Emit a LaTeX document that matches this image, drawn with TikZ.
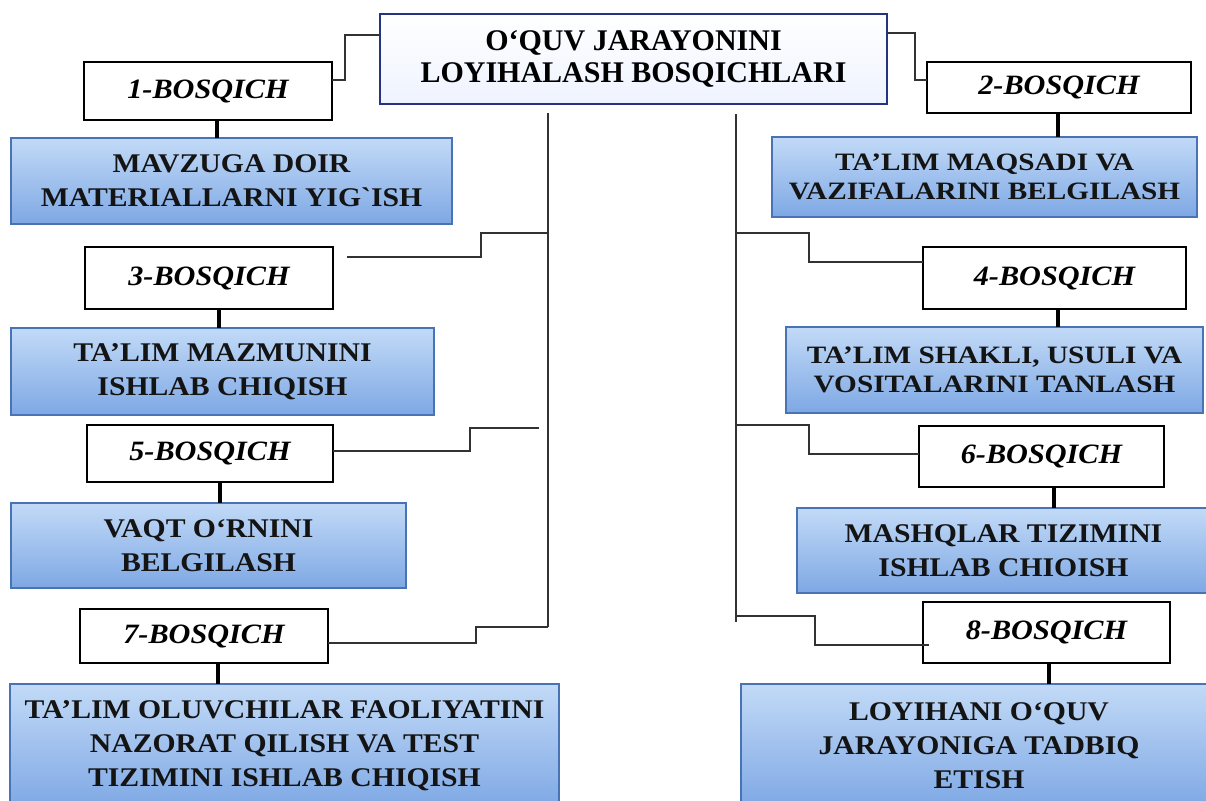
\documentclass[tikz,border=0pt]{standalone}
\usepackage{fontspec}
\setmainfont{Liberation Serif}
\newfontfamily\bluefont{Liberation Serif}[FakeStretch=1.1]
\newfontfamily\bluefontsm{Liberation Serif}[FakeStretch=1.17]
\newfontfamily\stagefont{Liberation Serif}[FakeStretch=1.08]
\usetikzlibrary{calc}
\definecolor{bfillA}{RGB}{194,218,247}
\definecolor{bfillB}{RGB}{126,168,228}
\definecolor{bborder}{RGB}{72,116,182}
\definecolor{tborder}{RGB}{38,52,128}
\definecolor{tfill}{RGB}{238,243,255}
\definecolor{conn}{RGB}{50,50,50}
\begin{document}
\begin{tikzpicture}[x=1pt,y=-1pt,
  every node/.style={inner sep=0pt,outer sep=0pt},
  titlebox/.style={draw=tborder,line width=2pt,top color=white,bottom color=tfill,align=center,font=\fontsize{30}{32}\selectfont\bfseries},
  stagebox/.style={draw=black,line width=2pt,fill=white,font=\stagefont\fontsize{28}{32}\selectfont\bfseries\itshape},
  bluebox/.style={draw=bborder,line width=1.5pt,top color=bfillA,bottom color=bfillB,align=center,text=black!92,font=\bluefont\fontsize{27}{34}\selectfont\bfseries},
  smalltext/.style={font=\bluefontsm\fontsize{25}{29}\selectfont\bfseries},
  link/.style={draw=conn,line width=1.4pt},
  stem/.style={draw=black,line width=4.5pt}]
\fill[white] (0,0) rectangle (1206,800);
\useasboundingbox (0,0) rectangle (1206,800);

% title
\node[titlebox,minimum width=507pt,minimum height=90pt] (title) at (633.5,59) {O‘QUV JARAYONINI\\LOYIHALASH BOSQICHLARI};

% left column
\node[stagebox,minimum width=248pt,minimum height=58pt] (b1) at (208,91) {1-BOSQICH};
\node[bluebox,minimum width=441pt,minimum height=86pt] (s1) at (231.5,181) {MAVZUGA DOIR\\MATERIALLARNI YIG`ISH};
\node[stagebox,minimum width=248pt,minimum height=62pt] (b3) at (209,278) {3-BOSQICH};
\node[bluebox,minimum width=423pt,minimum height=87pt] (s3) at (222.5,371.5) {TA’LIM MAZMUNINI\\ISHLAB CHIQISH};
\node[stagebox,minimum width=246pt,minimum height=57pt] (b5) at (210,453.5) {5-BOSQICH};
\node[bluebox,minimum width=395pt,minimum height=85pt] (s5) at (208.5,545.5) {VAQT O‘RNINI\\BELGILASH};
\node[stagebox,minimum width=248pt,minimum height=54pt] (b7) at (204,636) {7-BOSQICH};
\node[bluebox,minimum width=549pt,minimum height=124pt] (s7) at (284.5,746) {TA’LIM OLUVCHILAR FAOLIYATINI\\NAZORAT QILISH VA TEST\\TIZIMINI ISHLAB CHIQISH};

% right column
\node[stagebox,minimum width=264pt,minimum height=51pt] (b2) at (1059,87.5) {2-BOSQICH};
\node[bluebox,smalltext,minimum width=425pt,minimum height=80pt] (s2) at (984.5,177) {TA’LIM MAQSADI VA\\VAZIFALARINI BELGILASH};
\node[stagebox,minimum width=263pt,minimum height=62pt] (b4) at (1054.5,278) {4-BOSQICH};
\node[bluebox,smalltext,minimum width=417pt,minimum height=86pt] (s4) at (994.5,370) {TA’LIM SHAKLI, USULI VA\\VOSITALARINI TANLASH};
\node[stagebox,minimum width=245pt,minimum height=61pt] (b6) at (1041.5,456.5) {6-BOSQICH};
\node[bluebox,minimum width=413pt,minimum height=85pt] (s6) at (1003.5,550.5) {MASHQLAR TIZIMINI\\ISHLAB CHIOISH};
\node[stagebox,minimum width=247pt,minimum height=61pt] (b8) at (1046.5,632.5) {8-BOSQICH};
\node[bluebox,minimum width=476pt,minimum height=124pt] (s8) at (979,746) {LOYIHANI O‘QUV\\JARAYONIGA TADBIQ\\ETISH};

% stems
\coordinate (k1) at ([xshift=9pt]b1.south);
\coordinate (k3) at ([xshift=10pt]b3.south);
\coordinate (k5) at ([xshift=10pt]b5.south);
\coordinate (k7) at ([xshift=14pt]b7.south);
\coordinate (k2) at ([xshift=-1pt]b2.south);
\coordinate (k4) at ([xshift=3.5pt]b4.south);
\coordinate (k6) at ([xshift=12.5pt]b6.south);
\coordinate (k8) at ([xshift=2.5pt]b8.south);
\draw[stem] (k1) -- (k1 |- s1.north);
\draw[stem] (k3) -- (k3 |- s3.north);
\draw[stem] (k5) -- (k5 |- s5.north);
\draw[stem] (k7) -- (k7 |- s7.north);
\draw[stem] (k2) -- (k2 |- s2.north);
\draw[stem] (k4) -- (k4 |- s4.north);
\draw[stem] (k6) -- (k6 |- s6.north);
\draw[stem] (k8) -- (k8 |- s8.north);

% spines
\coordinate (lt) at (548,113);
\coordinate (lb) at (548,627);
\coordinate (rt) at (736,114);
\coordinate (rb) at (736,622);
\draw[link] (lt) -- (lb);
\draw[link] (rt) -- (rb);

% connectors
\draw[link] ($(b1.east)+(0,-11)$) -- ++(13,0) |- ($(title.west)+(0,-24)$);
\draw[link] ($(title.east)+(0,-26)$) -- ++(28,0) |- ($(b2.west)+(0,-7.5)$);
\coordinate (l3) at (548,233);
\coordinate (l5) at (539,428);
\draw[link] (l3) -- ++(-67,0) |- ($(b3.east)+(14,-21)$);
\draw[link] (l5) -- ++(-69,0) |- ($(b5.east)+(0,-2.5)$);
\draw[link] (lb) -- ++(-72,0) |- ($(b7.east)+(0,7)$);
\coordinate (r4) at (736,233);
\coordinate (r6) at (736,425);
\coordinate (r8) at (736,616);
\draw[link] (r4) -- ++(73,0) |- ($(b4.west)+(0,-16)$);
\draw[link] (r6) -- ++(73,0) |- ($(b6.west)+(0,-2.5)$);
\draw[link] (r8) -- ++(79,0) |- ($(b8.west)+(6,12.5)$);
\end{tikzpicture}
\end{document}
